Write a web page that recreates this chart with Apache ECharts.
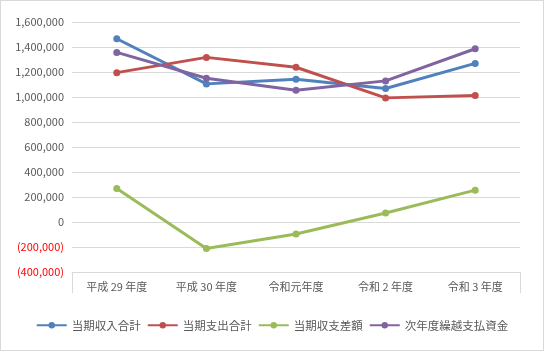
<!DOCTYPE html>
<html><head><meta charset="utf-8">
<script src="https://cdn.jsdelivr.net/npm/echarts@6/dist/echarts.min.js"></script>
<style>
html,body{margin:0;padding:0;background:#fff;}
#c{width:542px;height:349px;border:1px solid #d9d9d9;}
</style></head>
<body><div id="c"></div>
<script>
const categories = ['平成 29 年度','平成 30 年度','令和元年度','令和 2 年度','令和 3 年度'];
const income = [1466000, 1105000, 1142000, 1068000, 1269000];
const expense = [1195000, 1317000, 1238000, 993000, 1012000];
const balance = [268000, -212000, -96000, 72000, 255000];
const carryover = [1357000, 1150000, 1054000, 1129000, 1386000];
const seriesNames = ['当期収入合計','当期支出合計','当期収支差額','次年度繰越支払資金'];
const colors = ['#4F81BD','#C0504D','#9BBB59','#8064A2'];
const yMin = -400000, yMax = 1600000, yStep = 200000;

const font = '"Noto Sans CJK JP", "Noto Sans", sans-serif';
const chart = echarts.init(document.getElementById('c'));
const mk = (name, data, i) => ({
  name, type: 'line', data, color: colors[i],
  symbol: 'circle', symbolSize: 7,
  lineStyle: {width: 3, color: colors[i]},
  itemStyle: {color: colors[i]}
});
chart.setOption({
  animation: false,
  textStyle: {fontFamily: font},
  grid: {left: 71, right: 23, top: 21, bottom: 78},
  legend: {
    bottom: 14, left: 'center', itemWidth: 30, itemHeight: 8, itemGap: 6,
    textStyle: {color: '#595959', fontSize: 11.5, fontFamily: font},
    data: seriesNames
  },
  xAxis: {
    type: 'category', data: categories, boundaryGap: true,
    axisLine: {onZero: false, lineStyle: {color: '#d9d9d9'}},
    axisTick: {show: true, length: 21, lineStyle: {color: '#d9d9d9'},
      interval: function(i){ return i === 0; }},
    axisLabel: {color: '#595959', fontSize: 11, margin: 9, fontFamily: font}
  },
  yAxis: {
    type: 'value', min: yMin, max: yMax, interval: yStep,
    axisLine: {show: false}, axisTick: {show: false},
    splitLine: {lineStyle: {color: '#d9d9d9'}},
    axisLabel: {
      fontSize: 11, margin: 8, fontFamily: font,
      color: v => (v < 0 ? '#FF0000' : '#595959'),
      formatter: v => v < 0 ? '(' + Math.abs(v).toLocaleString('en-US') + ')' : v.toLocaleString('en-US')
    }
  },
  series: [mk(seriesNames[0], income, 0), mk(seriesNames[1], expense, 1), mk(seriesNames[2], balance, 2), mk(seriesNames[3], carryover, 3)]
});
</script></body></html>
